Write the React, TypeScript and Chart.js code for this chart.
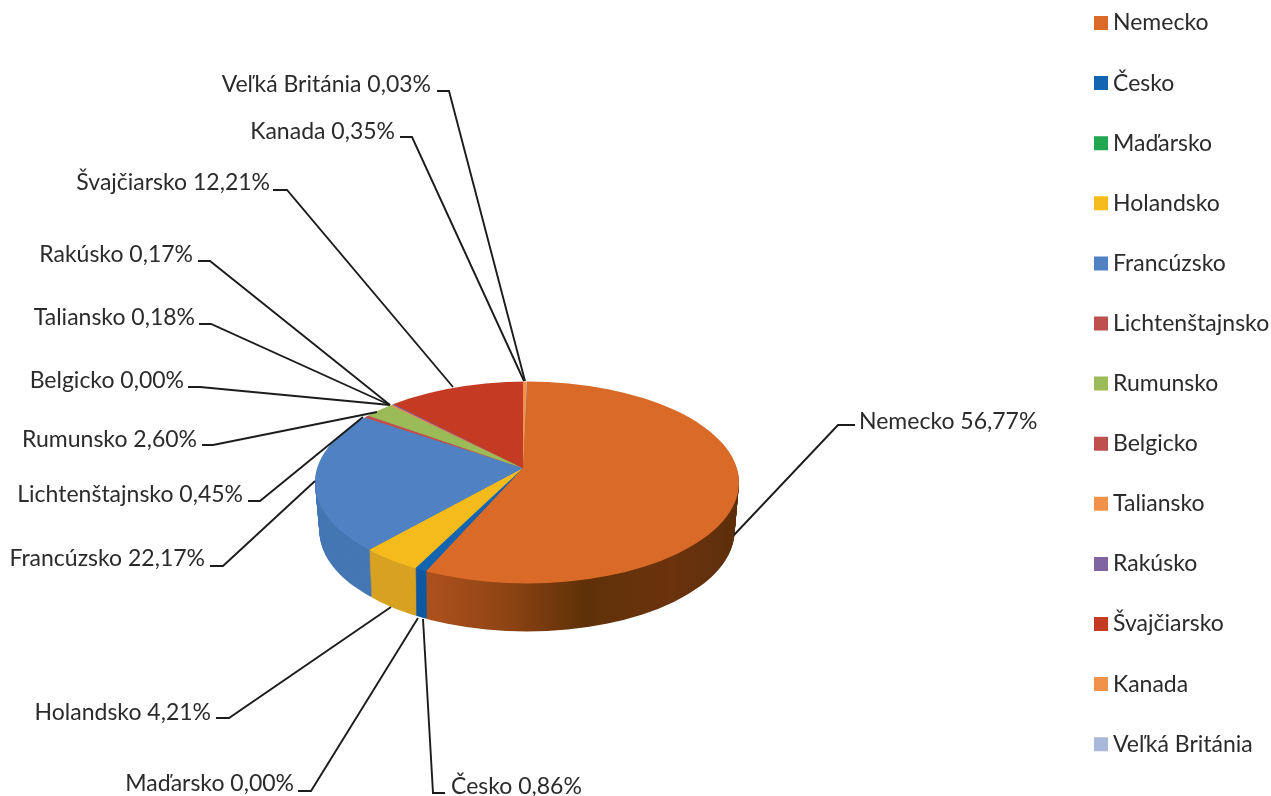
import React, { useEffect, useRef } from "react";
import { Chart, registerables } from "chart.js";

Chart.register(...registerables);

const countries = ["Nemecko", "Česko", "Maďarsko", "Holandsko", "Francúzsko", "Lichtenštajnsko", "Rumunsko", "Belgicko", "Taliansko", "Rakúsko", "Švajčiarsko", "Kanada", "Veľká Británia"];
const shares = [56.77, 0.86, 0.0, 4.21, 22.17, 0.45, 2.6, 0.0, 0.18, 0.17, 12.21, 0.35, 0.03];
const legendColors = ["#DA6A27", "#1265B0", "#20A74F", "#F5BB1D", "#4F81C3", "#C0504D", "#9BBB59", "#C0504D", "#F0924A", "#8064A2", "#C43A22", "#F0924A", "#A9B8D8"];
const wallColors = ["#8a4212", "#0f58a2", "#20A74F", "#d8a222", "#4577b3", "#C0504D", "#9BBB59", "#C0504D", "#F0924A", "#8064A2", "#C43A22", "#F0924A", "#A9B8D8"];

// Leader layout: text anchor, text-side start, elbow, pie-side end (same order as countries)
type Leader = { tx: number; ty: number; align: CanvasTextAlign; pts: number[][] };
const leaders: Leader[] = [
  { tx: 859, ty: 422, align: "left", pts: [[855, 425], [838, 425], [734, 535]] },
  { tx: 451, ty: 787, align: "left", pts: [[445, 793], [433, 793], [423, 619]] },
  { tx: 294, ty: 784, align: "right", pts: [[298, 791], [311, 791], [418, 618]] },
  { tx: 211, ty: 713, align: "right", pts: [[216, 718], [229, 718], [391, 607]] },
  { tx: 205, ty: 559, align: "right", pts: [[210, 566], [223, 566], [315, 481]] },
  { tx: 243, ty: 495, align: "right", pts: [[248, 501], [260, 501], [363, 417]] },
  { tx: 197, ty: 440, align: "right", pts: [[202, 445], [213, 445], [377, 412]] },
  { tx: 184, ty: 381, align: "right", pts: [[188, 387], [200, 387], [390, 405]] },
  { tx: 195, ty: 318, align: "right", pts: [[199, 324], [211, 324], [390, 405]] },
  { tx: 193, ty: 255, align: "right", pts: [[198, 261], [210, 261], [390, 405]] },
  { tx: 270, ty: 183, align: "right", pts: [[273, 190], [287, 190], [453, 387]] },
  { tx: 395, ty: 132, align: "right", pts: [[400, 137], [412, 137], [524, 381]] },
  { tx: 431, ty: 85, align: "right", pts: [[437, 91], [449, 91], [525, 381]] },
];

const FONT = "Lato";
const FONT_SIZE = 23;
const TEXT = "#2b2b2b";
const APEX = { x: 523, y: 468 };
const RIM = { cx: 527, cy: 482.5, rx: 212, ry: 101 };
const DEPTH = 48;
// quadrant views of the pie around the apex: [clip x, clip y, clip w, clip h, x scale target, y scale target]
const QUADS = [
  [0, 0, APEX.x, APEX.y, 252, 120],
  [APEX.x, 0, 800, APEX.y, 228, 120],
  [APEX.x, APEX.y, 800, 400, 266, 140],
  [0, APEX.y, APEX.x, 400, 273, 140],
];
const WALL_STOPS: [number, string][] = [[0, "#ad511c"], [0.25, "#8f4414"], [0.5, "#5f3108"], [0.78, "#6b330e"], [1, "#5c2e0b"]];

function drawLayer(chart: any, dy: number, shrink: number, wall: boolean) {
  const { ctx } = chart;
  const arcs = chart.getDatasetMeta(0).data as any[];
  ctx.save();
  ctx.beginPath();
  ctx.ellipse(RIM.cx, RIM.cy + dy, RIM.rx - shrink, RIM.ry, 0, 0, Math.PI * 2);
  ctx.clip();
  for (const [qx, qy, qw, qh, tx, ty] of QUADS) {
    ctx.save();
    ctx.beginPath();
    ctx.rect(qx, qy + dy, qw, qh);
    ctx.clip();
    arcs.forEach((arc, i) => {
      const R = arc.outerRadius;
      const sx = tx / R;
      const sy = ty / R;
      ctx.save();
      ctx.translate(APEX.x, APEX.y + dy);
      ctx.scale(sx, sy);
      ctx.translate(-arc.x, -arc.y);
      const saved = arc.options;
      if (wall) {
        let fill: any = wallColors[i];
        if (i === 0) {
          const ux = (px: number) => (px - APEX.x) / sx + arc.x;
          const g = ctx.createLinearGradient(ux(428), 0, ux(740), 0);
          WALL_STOPS.forEach(([p, c]) => g.addColorStop(p, c));
          fill = g;
        }
        arc.options = { ...saved, backgroundColor: fill };
      }
      arc.draw(ctx);
      arc.options = saved;
      ctx.restore();
    });
    ctx.restore();
  }
  ctx.restore();
}

const pie3d = {
  id: "pie3d",
  afterLayout(chart: any) {
    const l = chart.legend;
    const pad = l.options.labels.padding;
    l.left = 1100.5 - pad;
    l.right = chart.width + 60;
    l.top = 11.5 - pad;
    l.bottom = chart.height;
  },
  beforeDatasetsDraw(chart: any) {
    for (let d = DEPTH; d >= 1; d--) drawLayer(chart, d, d * 0.09, true);
    drawLayer(chart, 0, 0, false);
    return false;
  },
  afterDraw(chart: any) {
    const { ctx } = chart;
    ctx.save();
    ctx.strokeStyle = "#1c1c1c";
    ctx.lineWidth = 1.9;
    ctx.lineJoin = "miter";
    ctx.font = `${FONT_SIZE}px ${FONT}`;
    ctx.fillStyle = TEXT;
    ctx.textBaseline = "middle";
    leaders.forEach((l, i) => {
      ctx.beginPath();
      l.pts.forEach(([x, y], k) => (k ? ctx.lineTo(x, y) : ctx.moveTo(x, y)));
      ctx.stroke();
      ctx.textAlign = l.align;
      ctx.fillText(`${countries[i]} ${shares[i].toFixed(2).replace(".", ",")}%`, l.tx, l.ty);
    });
    ctx.restore();
  },
};

export default function App() {
  const ref = useRef<HTMLCanvasElement>(null);
  useEffect(() => {
    const chart = new Chart(ref.current!, {
      type: "pie",
      data: {
        labels: countries,
        datasets: [{ data: shares, backgroundColor: legendColors, borderWidth: 0 }],
      },
      options: {
        responsive: false,
        animation: false,
        events: [],
        rotation: 1.4,
        plugins: {
          tooltip: { enabled: false },
          legend: {
            position: "right",
            align: "start",
            labels: {
              boxWidth: 1,
              boxHeight: 1,
              padding: 37.1,
              color: TEXT,
              font: { family: FONT, size: FONT_SIZE },
              generateLabels: () =>
                countries.map((text, i) => ({
                  text,
                  fillStyle: legendColors[i],
                  strokeStyle: legendColors[i],
                  lineWidth: 13,
                  hidden: false,
                  index: i,
                  fontColor: TEXT,
                })),
            },
          },
        },
      },
      plugins: [pie3d],
    } as any);
    return () => chart.destroy();
  }, []);
  return (
    <div style={{ position: "fixed", inset: 0, overflow: "hidden", background: "#fff" }}>
      <canvas ref={ref} width={1271} height={840} style={{ display: "block" }} />
    </div>
  );
}
